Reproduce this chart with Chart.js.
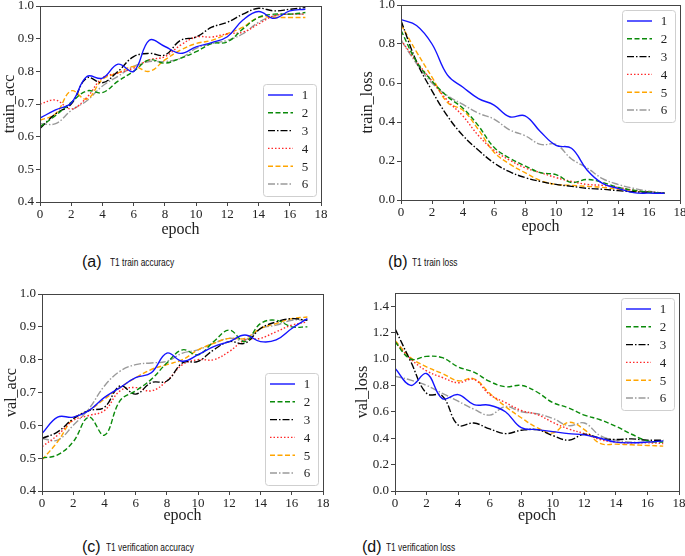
<!DOCTYPE html>
<html lang="en">
<head>
  <meta charset="UTF-8" />
  <title>T1 training curves</title>
  <script src="https://cdn.jsdelivr.net/npm/chart.js"></script>
  <style>
    body { margin: 0; width: 685px; height: 556px; overflow: hidden; background: #fff; position: relative; }
    canvas { position: absolute; }
    .tag { position: absolute; font-family: "Liberation Sans", Arial, sans-serif; font-size: 16px; color: #111; line-height: 18px; }
    .txt { position: absolute; font-family: "Liberation Sans", Arial, sans-serif; font-size: 11px; color: #111; line-height: 13px;
           white-space: nowrap; transform: scaleX(0.76); transform-origin: left center; }
  </style>
</head>
<body>
  <canvas id="pa"></canvas>
  <canvas id="pb"></canvas>
  <canvas id="pc"></canvas>
  <canvas id="pd"></canvas>

  <div class="tag" style="left:82px;top:253px">(a)</div>
  <div class="txt" style="left:110px;top:256px">T1 train accuracy</div>
  <div class="tag" style="left:388px;top:253px">(b)</div>
  <div class="txt" style="left:412px;top:256px">T1 train loss</div>
  <div class="tag" style="left:82px;top:538px">(c)</div>
  <div class="txt" style="left:106px;top:541px">T1 verification accuracy</div>
  <div class="tag" style="left:362px;top:538px">(d)</div>
  <div class="txt" style="left:386px;top:541px">T1 verification loss</div>

  <script>
    // data, one value per epoch
    const epochs = [0, 1, 2, 3, 4, 5, 6, 7, 8, 9, 10, 11, 12, 13, 14, 15, 16, 17];
    const runNames = ['1', '2', '3', '4', '5', '6'];

    const trainAcc = [
      [0.657, 0.682, 0.703, 0.784, 0.779, 0.822, 0.800, 0.895, 0.876, 0.855, 0.875, 0.888, 0.906, 0.957, 0.983, 0.962, 0.985, 0.990],
      [0.630, 0.665, 0.705, 0.740, 0.735, 0.770, 0.800, 0.835, 0.825, 0.840, 0.860, 0.885, 0.890, 0.930, 0.965, 0.975, 0.975, 0.980],
      [0.625, 0.670, 0.700, 0.780, 0.765, 0.800, 0.845, 0.855, 0.850, 0.895, 0.905, 0.935, 0.950, 0.975, 0.993, 0.985, 0.990, 0.995],
      [0.700, 0.712, 0.685, 0.720, 0.780, 0.795, 0.810, 0.835, 0.845, 0.880, 0.905, 0.905, 0.915, 0.920, 0.945, 0.970, 0.975, 0.975],
      [0.650, 0.670, 0.740, 0.715, 0.775, 0.795, 0.815, 0.800, 0.835, 0.865, 0.885, 0.895, 0.915, 0.935, 0.965, 0.965, 0.965, 0.965],
      [0.640, 0.640, 0.680, 0.710, 0.755, 0.785, 0.815, 0.830, 0.830, 0.840, 0.870, 0.885, 0.895, 0.915, 0.950, 0.970, 0.975, 0.975]
    ];
    const trainLoss = [
      [0.925, 0.895, 0.800, 0.640, 0.578, 0.520, 0.487, 0.427, 0.432, 0.350, 0.280, 0.265, 0.154, 0.085, 0.060, 0.038, 0.035, 0.035],
      [0.870, 0.710, 0.610, 0.530, 0.470, 0.380, 0.270, 0.215, 0.175, 0.140, 0.130, 0.090, 0.105, 0.090, 0.065, 0.050, 0.040, 0.035],
      [0.920, 0.710, 0.560, 0.430, 0.330, 0.255, 0.190, 0.145, 0.115, 0.095, 0.080, 0.070, 0.060, 0.055, 0.048, 0.042, 0.040, 0.035],
      [0.820, 0.710, 0.610, 0.510, 0.430, 0.330, 0.255, 0.205, 0.165, 0.140, 0.115, 0.095, 0.080, 0.075, 0.065, 0.050, 0.040, 0.035],
      [0.900, 0.760, 0.630, 0.500, 0.460, 0.360, 0.245, 0.185, 0.140, 0.100, 0.080, 0.075, 0.070, 0.065, 0.055, 0.045, 0.040, 0.035],
      [0.820, 0.700, 0.600, 0.535, 0.490, 0.445, 0.415, 0.360, 0.330, 0.285, 0.285, 0.210, 0.165, 0.110, 0.080, 0.060, 0.045, 0.035]
    ];
    const valAcc = [
      [0.575, 0.625, 0.625, 0.645, 0.685, 0.715, 0.745, 0.760, 0.820, 0.795, 0.815, 0.840, 0.855, 0.875, 0.855, 0.860, 0.895, 0.925],
      [0.500, 0.510, 0.550, 0.625, 0.570, 0.675, 0.705, 0.740, 0.790, 0.830, 0.815, 0.855, 0.890, 0.855, 0.910, 0.920, 0.900, 0.900],
      [0.560, 0.580, 0.620, 0.645, 0.655, 0.720, 0.695, 0.730, 0.735, 0.790, 0.795, 0.830, 0.855, 0.850, 0.895, 0.915, 0.925, 0.920],
      [0.535, 0.570, 0.615, 0.630, 0.645, 0.705, 0.715, 0.705, 0.735, 0.785, 0.800, 0.800, 0.825, 0.860, 0.865, 0.885, 0.905, 0.915],
      [0.495, 0.550, 0.620, 0.645, 0.680, 0.715, 0.745, 0.770, 0.785, 0.800, 0.830, 0.850, 0.865, 0.865, 0.895, 0.910, 0.925, 0.930],
      [0.560, 0.555, 0.600, 0.650, 0.720, 0.765, 0.785, 0.790, 0.795, 0.820, 0.830, 0.850, 0.865, 0.860, 0.895, 0.905, 0.920, 0.920]
    ];
    const valLoss = [
      [0.930, 0.800, 0.890, 0.700, 0.730, 0.655, 0.650, 0.600, 0.480, 0.465, 0.450, 0.435, 0.425, 0.400, 0.370, 0.365, 0.370, 0.380],
      [1.130, 1.000, 1.020, 1.010, 0.940, 0.900, 0.830, 0.790, 0.800, 0.750, 0.670, 0.630, 0.575, 0.540, 0.490, 0.430, 0.380, 0.370],
      [1.230, 0.980, 0.740, 0.720, 0.500, 0.515, 0.470, 0.435, 0.460, 0.465, 0.420, 0.385, 0.430, 0.400, 0.390, 0.395, 0.385, 0.385],
      [1.130, 1.000, 0.910, 0.860, 0.820, 0.845, 0.730, 0.670, 0.610, 0.580, 0.520, 0.470, 0.435, 0.390, 0.370, 0.365, 0.365, 0.360],
      [1.140, 1.010, 0.940, 0.890, 0.835, 0.850, 0.740, 0.640, 0.555, 0.480, 0.440, 0.520, 0.465, 0.360, 0.355, 0.350, 0.345, 0.340],
      [0.870, 0.840, 0.800, 0.740, 0.680, 0.620, 0.575, 0.640, 0.600, 0.585, 0.550, 0.495, 0.515, 0.420, 0.385, 0.370, 0.370, 0.375]
    ];

    const lineColors = ['#1414ff', '#0a8a0a', '#000000', '#ff2a2a', '#ffa500', '#9a9a9a'];
    const lineDashes = [[], [5, 2.5], [7, 2, 1.5, 2], [1.5, 2], [5, 2.5], [7, 2, 1.5, 2]];

    const serif = '"Liberation Serif", "DejaVu Serif", serif';

    // frame round the plot area + legend box inside it, like matplotlib
    const framePlugin = {
      id: 'frame',
      afterDatasetsDraw(chart) {
        const { ctx, chartArea: a } = chart;
        ctx.save();
        ctx.strokeStyle = '#444';
        ctx.lineWidth = 1;
        ctx.strokeRect(a.left + 0.5, a.top + 0.5, a.right - a.left, a.bottom - a.top);

        const pos = chart.options.plugins.frame.legend;
        const w = 53, h = 112;
        const x0 = a.right - 5 - w;
        const y0 = pos === 'top' ? a.top + 5 : a.bottom - 6 - h;
        ctx.fillStyle = 'rgba(255,255,255,0.85)';
        ctx.strokeStyle = '#cfcfcf';
        ctx.beginPath();
        ctx.roundRect(x0 + 0.5, y0 + 0.5, w, h, 3);
        ctx.fill();
        ctx.stroke();

        chart.data.datasets.forEach((ds, i) => {
          const y = y0 + 11 + i * 17.8;
          ctx.strokeStyle = ds.borderColor;
          ctx.lineWidth = 1.4;
          ctx.setLineDash(ds.borderDash);
          ctx.beginPath();
          ctx.moveTo(x0 + 5, y);
          ctx.lineTo(x0 + 30, y);
          ctx.stroke();
          ctx.setLineDash([]);
          ctx.fillStyle = '#222';
          ctx.font = '13px ' + serif;
          ctx.textAlign = 'center';
          ctx.textBaseline = 'middle';
          ctx.fillText(ds.label, x0 + 42, y + 1);
        });
        ctx.restore();
      }
    };

    function makePanel(id, values, box, y) {
      const canvas = document.getElementById(id);
      const top = box.T - 12;
      const bottom = box.xTitleY + 10;
      const width = box.R + 20 - box.cl;
      canvas.width = width;
      canvas.height = bottom - top;
      canvas.style.left = box.cl + 'px';
      canvas.style.top = top + 'px';

      const datasets = values.map((vals, i) => ({
        label: runNames[i],
        data: epochs.map((e, k) => ({ x: e, y: vals[k] })),
        borderColor: lineColors[i],
        borderDash: lineDashes[i],
        borderWidth: 1.4,
        pointRadius: 0,
        tension: 0.4,
        fill: false
      }));

      const tickFont = { family: serif, size: 13 };
      const titleFont = { family: serif, size: 16 };

      return new Chart(canvas.getContext('2d'), {
        type: 'line',
        data: { datasets },
        plugins: [framePlugin],
        options: {
          responsive: false,
          animation: false,
          devicePixelRatio: 1,
          layout: { padding: { left: 0, top: 12, right: 20, bottom: 0 } },
          plugins: {
            legend: { display: false },
            tooltip: { enabled: false },
            frame: { legend: box.legend }
          },
          scales: {
            x: {
              type: 'linear',
              min: 0, max: 18,
              afterFit: s => { s.height = bottom - box.B; },
              ticks: { stepSize: 2, font: tickFont, color: '#222', padding: 1, maxRotation: 0 },
              grid: { drawOnChartArea: false, drawTicks: true, tickLength: 4, color: '#444' },
              border: { display: false },
              title: { display: true, text: 'epoch', font: titleFont, color: '#222', padding: 0 }
            },
            y: {
              min: y.min, max: y.max,
              afterFit: s => { s.width = box.L - box.cl; },
              ticks: {
                stepSize: y.step, includeBounds: false, font: tickFont, color: '#222', padding: 2,
                callback: v => v.toFixed(1)
              },
              grid: { drawOnChartArea: false, drawTicks: true, tickLength: 4, color: '#444' },
              border: { display: false },
              title: { display: true, text: y.title, font: titleFont, color: '#222', padding: 0 }
            }
          }
        }
      });
    }

    makePanel('pa', trainAcc, { cl: 0, L: 40, R: 321, T: 6, B: 202, xTitleY: 229, legend: 'bottom' },
      { min: 0.4, max: 1.0, step: 0.1, title: 'train_acc' });
    makePanel('pb', trainLoss, { cl: 358, L: 401, R: 680, T: 5, B: 200, xTitleY: 226, legend: 'top' },
      { min: 0, max: 1.0, step: 0.2, title: 'train_loss' });
    makePanel('pc', valAcc, { cl: 2, L: 42, R: 323, T: 294, B: 491, xTitleY: 515, legend: 'bottom' },
      { min: 0.4, max: 1.0, step: 0.1, title: 'val_acc' });
    makePanel('pd', valLoss, { cl: 353, L: 395, R: 679, T: 293, B: 491, xTitleY: 515, legend: 'top' },
      { min: 0, max: 1.5, step: 0.2, title: 'val_loss' });
  </script>
</body>
</html>
